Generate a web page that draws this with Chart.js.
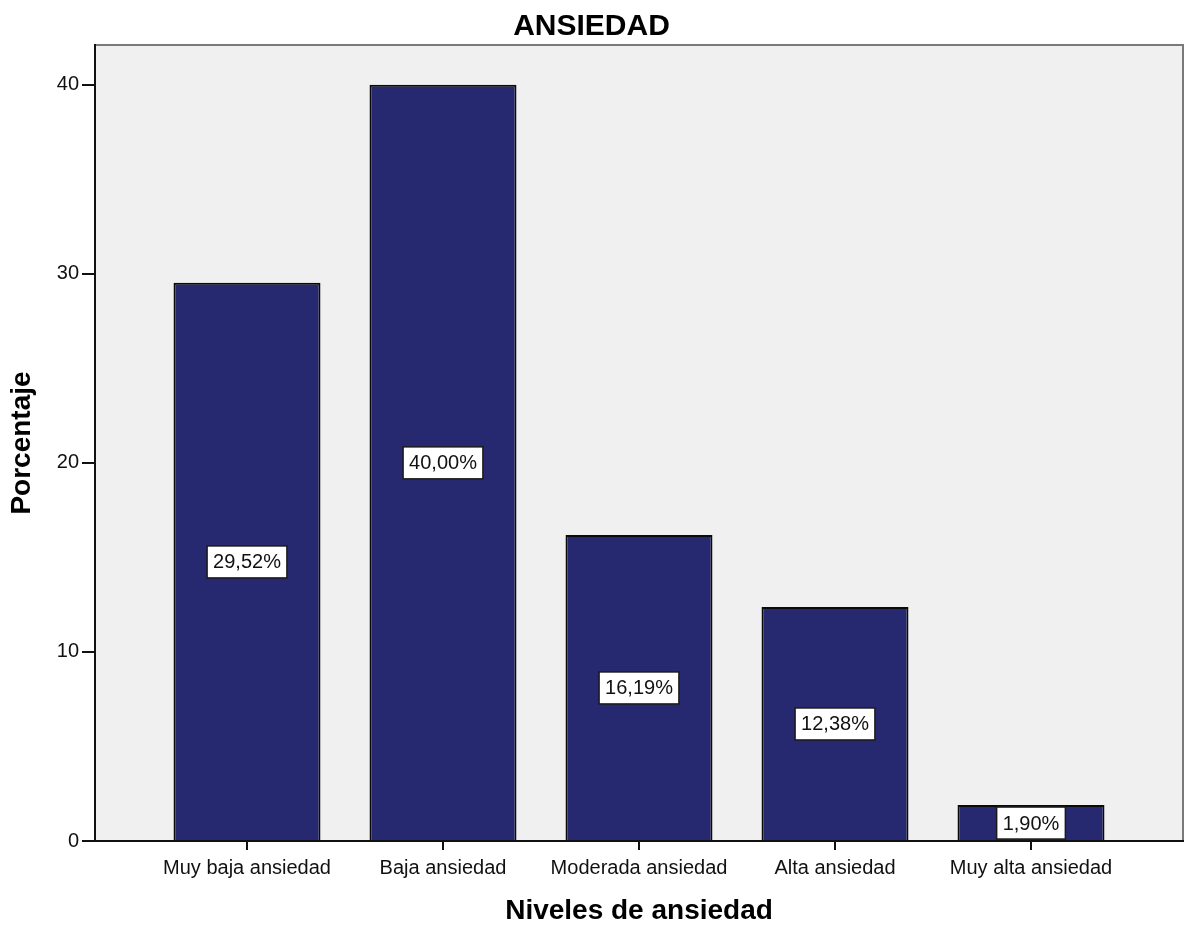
<!DOCTYPE html>
<html>
<head>
<meta charset="utf-8">
<script src="https://cdn.jsdelivr.net/npm/chart.js@4/dist/chart.umd.min.js"></script>
<style>
  html, body { margin: 0; padding: 0; background: #ffffff; }
  #wrap { width: 1184px; height: 928px; }
</style>
</head>
<body>
<div id="wrap"><canvas id="c" width="1184" height="928"></canvas></div>
<script>
// Niveles de ansiedad: porcentaje de casos por nivel
const categories = ['Muy baja ansiedad', 'Baja ansiedad', 'Moderada ansiedad', 'Alta ansiedad', 'Muy alta ansiedad'];
const percentages = [29.52, 40.00, 16.19, 12.38, 1.90];
const yTickValues = [0, 10, 20, 30, 40];

const FONT = '"Liberation Sans", Arial, sans-serif';

// Light grey plot panel with a grey frame on top and right
const panelPlugin = {
  id: 'panel',
  beforeDraw(chart) {
    const { ctx, chartArea: a } = chart;
    ctx.save();
    ctx.fillStyle = '#f0f0f0';
    ctx.fillRect(a.left, a.top, a.right - a.left, a.bottom - a.top);
    ctx.strokeStyle = '#7a7a7a';
    ctx.lineWidth = 2;
    ctx.beginPath();
    ctx.moveTo(a.left, a.top);
    ctx.lineTo(a.right, a.top);
    ctx.lineTo(a.right, a.bottom);
    ctx.stroke();
    ctx.restore();
  }
};

// Boxed percentage label at the middle of each bar
const valueLabelPlugin = {
  id: 'valueLabels',
  afterDatasetsDraw(chart) {
    const { ctx } = chart;
    const meta = chart.getDatasetMeta(0);
    const yScale = chart.scales.y;
    ctx.save();
    ctx.font = '20px ' + FONT;
    ctx.textAlign = 'center';
    ctx.textBaseline = 'middle';
    meta.data.forEach((bar, i) => {
      const v = percentages[i];
      const text = v.toFixed(2).replace('.', ',') + '%';
      const x = bar.x;
      const y = yScale.getPixelForValue(v / 2);
      const w = ctx.measureText(text).width + 12;
      const h = 32;
      ctx.fillStyle = '#ffffff';
      ctx.fillRect(x - w / 2, y - h / 2, w, h);
      ctx.strokeStyle = '#1a1a1a';
      ctx.lineWidth = 1.5;
      ctx.strokeRect(x - w / 2, y - h / 2, w, h);
      ctx.fillStyle = '#111111';
      ctx.fillText(text, x, y + 1);
    });
    ctx.restore();
  }
};

new Chart(document.getElementById('c'), {
  type: 'bar',
  data: {
    datasets: [{
      data: percentages.map((v, i) => ({ x: i, y: v })),
      backgroundColor: '#272970',
      borderColor: '#0a0a0a',
      borderWidth: 2,
      barPercentage: 0.75,
      categoryPercentage: 1.0
    }]
  },
  options: {
    responsive: false,
    animation: false,
    devicePixelRatio: 1,
    layout: { padding: { top: 0, right: 1, left: 0, bottom: 0 } },
    plugins: {
      legend: { display: false },
      tooltip: { enabled: false },
      title: {
        display: true,
        text: 'ANSIEDAD',
        color: '#000000',
        font: { family: FONT, size: 30, weight: 'bold', lineHeight: 1.1 },
        padding: { top: 10, bottom: 2 }
      }
    },
    scales: {
      x: {
        type: 'linear',
        offset: false,
        min: -0.7755,
        max: 4.7755,
        afterBuildTicks(scale) {
          scale.ticks = categories.map((_, i) => ({ value: i }));
        },
        afterFit(scale) { scale.height = 87; },
        ticks: {
          autoSkip: false,
          maxRotation: 0,
          padding: 6,
          color: '#111111',
          font: { family: FONT, size: 20 },
          callback: (v) => categories[v]
        },
        grid: { offset: false, drawOnChartArea: false, drawTicks: true, tickLength: 9, color: '#111111', lineWidth: 2 },
        border: { display: true, color: '#111111', width: 2 },
        title: {
          display: true,
          text: 'Niveles de ansiedad',
          color: '#000000',
          font: { family: FONT, size: 28, weight: 'bold' },
          padding: { top: 0, bottom: 0 }
        }
      },
      y: {
        type: 'linear',
        min: 0,
        max: 42.1,
        afterBuildTicks(scale) {
          scale.ticks = yTickValues.map(v => ({ value: v }));
        },
        afterFit(scale) { scale.width = 95; },
        ticks: {
          padding: 3,
          color: '#111111',
          font: { family: FONT, size: 20 }
        },
        grid: { drawOnChartArea: false, drawTicks: true, tickLength: 13, color: '#111111', lineWidth: 2 },
        border: { display: true, color: '#111111', width: 2 },
        title: {
          display: true,
          text: 'Porcentaje',
          color: '#000000',
          font: { family: FONT, size: 28, weight: 'bold' },
          padding: { top: 5, bottom: 0 }
        }
      }
    }
  },
  plugins: [panelPlugin, valueLabelPlugin]
});
</script>
</body>
</html>
